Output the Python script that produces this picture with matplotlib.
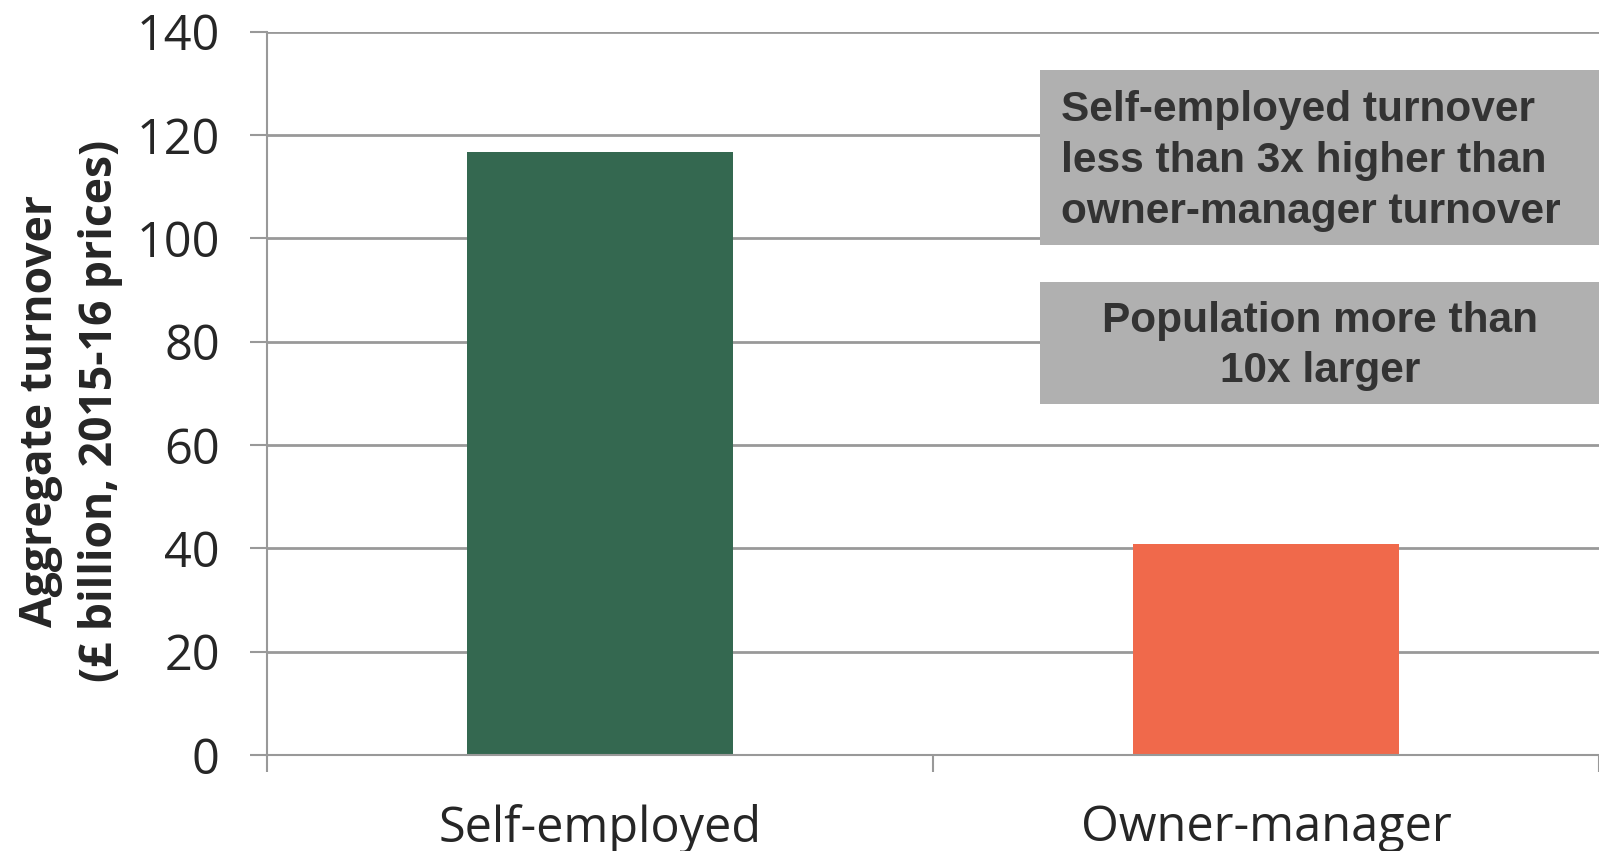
import matplotlib.pyplot as plt
from matplotlib.patches import Rectangle

categories = ['Self-employed', 'Owner-manager']
turnover = [116.7, 40.9]
bar_colors = ['#346850', '#F0694B']
yticks = [0, 20, 40, 60, 80, 100, 120, 140]
note_1 = 'Self-employed turnover\nless than 3x higher than\nowner-manager turnover'
note_2 = 'Population more than\n10x larger'

grey = '#999999'
W, H = 1599, 851

fig = plt.figure(figsize=(W / 100, H / 100), dpi=100)
ax = fig.add_axes([267 / W, 1 - 755 / H, 1 - 267 / W, (755 - 31.6) / H])

x = list(range(len(categories)))
ax.bar(x, turnover, width=0.4, color=bar_colors, zorder=3)

ax.set_xlim(-0.5, 1.5)
ax.set_ylim(0, 140)
ax.set_yticks(yticks)
ax.set_xticks(x)
ax.set_xticklabels(categories)
ax.set_xticks([-0.5, 0.5, 1.5], minor=True)

ax.grid(axis='y', color=grey, linewidth=2, zorder=0)
for s in ['top', 'right']:
    ax.spines[s].set_visible(False)
for s in ['left', 'bottom']:
    ax.spines[s].set_color(grey)
    ax.spines[s].set_linewidth(1.5)
    ax.spines[s].set_zorder(4)

ax.tick_params(axis='y', length=12, width=1.5, color=grey, pad=22,
               labelsize=35, labelcolor='#262626')
ax.tick_params(axis='x', which='major', length=0, pad=35,
               labelsize=35, labelcolor='#262626')
ax.tick_params(axis='x', which='minor', length=12, width=1.5, color=grey)
for lab in ax.get_xticklabels() + ax.get_yticklabels():
    lab.set_fontfamily('Open Sans')

ax.set_ylabel('Aggregate turnover\n(£ billion, 2015-16 prices)',
              fontsize=32, fontweight='bold', family='Open Sans',
              color='#262626', linespacing=1.45)
ax.yaxis.set_label_coords(-0.108, 0.475)

# note boxes in figure pixels
boxes = [(70, 245), (282, 404)]
for top, bot in boxes:
    fig.patches.append(Rectangle((1040 / W, 1 - bot / H), 1 - 1040 / W, (bot - top) / H,
                                 transform=fig.transFigure, facecolor='#B0B0B0',
                                 edgecolor='none', zorder=5))

fig.text(1061 / W, 1 - 161 / H, note_1, ha='left', va='center',
         fontsize=30.5, fontweight='bold', family='Liberation Sans',
         color='#333333', linespacing=1.34, zorder=6)
fig.text(1320 / W, 1 - 346 / H, note_2, ha='center', va='center',
         fontsize=30.5, fontweight='bold', family='Liberation Sans',
         color='#333333', linespacing=1.34, zorder=6)

fig.savefig('out.png', dpi=100)
